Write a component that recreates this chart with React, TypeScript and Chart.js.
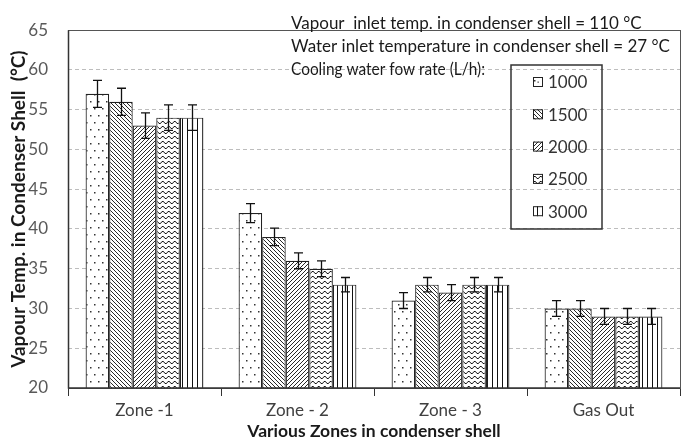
import React, { useEffect, useRef } from 'react';
import { Chart, registerables } from 'chart.js';

Chart.register(...registerables);

const categories = ['Zone -1', 'Zone - 2', 'Zone - 3', 'Gas Out'];
const flowRates = ['1000', '1500', '2000', '2500', '3000'];

const temp1000 = [57, 42, 31, 30];
const temp1500 = [56, 39, 33, 30];
const temp2000 = [53, 36, 32, 29];
const temp2500 = [54, 35, 33, 29];
const temp3000 = [54, 33, 33, 29];

const err1000 = [1.7, 1.2, 1.0, 1.0];
const err1500 = [1.7, 1.1, 0.9, 1.0];
const err2000 = [1.6, 1.0, 1.0, 1.0];
const err2500 = [1.6, 1.0, 0.9, 1.0];
const err3000 = [1.6, 0.9, 0.9, 1.0];

const yMin = 20;
const yMax = 65;
const yStep = 5;

const noteLines = [
  'Vapour  inlet temp. in condenser shell = 110 °C',
  'Water inlet temperature in condenser shell = 27 °C',
  'Cooling water fow rate (L/h):',
];
const noteMaxWidths = [358, 380, 194];
const yTitle = 'Vapour Temp. in Condenser Shell  (°C)';
const xTitle = 'Various Zones in condenser shell';

const FONT = 'Lato, "Open Sans", sans-serif';

function makeTile(w: number, h: number, draw: (c: CanvasRenderingContext2D) => void) {
  const cv = document.createElement('canvas');
  cv.width = w;
  cv.height = h;
  const c = cv.getContext('2d')!;
  c.fillStyle = '#ffffff';
  c.fillRect(0, 0, w, h);
  draw(c);
  return cv;
}

function makePatterns(ctx: CanvasRenderingContext2D) {
  const dots = makeTile(8, 14, (c) => {
    c.fillStyle = '#333';
    c.fillRect(2, 3, 1.5, 1.5);
    c.fillRect(6, 10, 1.5, 1.5);
  });
  const back = makeTile(4, 4, (c) => {
    c.strokeStyle = '#111';
    c.lineWidth = 0.9;
    c.beginPath();
    c.moveTo(-1, -1); c.lineTo(5, 5);
    c.moveTo(-1, 3); c.lineTo(1, 5);
    c.moveTo(3, -1); c.lineTo(5, 1);
    c.stroke();
  });
  const fwd = makeTile(4, 4, (c) => {
    c.strokeStyle = '#111';
    c.lineWidth = 0.9;
    c.beginPath();
    c.moveTo(-1, 5); c.lineTo(5, -1);
    c.moveTo(-1, 1); c.lineTo(1, -1);
    c.moveTo(3, 5); c.lineTo(5, 3);
    c.stroke();
  });
  const wave = makeTile(6, 5, (c) => {
    c.strokeStyle = '#111';
    c.lineWidth = 1;
    c.beginPath();
    c.moveTo(0, 1.5); c.lineTo(1.5, 1.5); c.lineTo(3, 3.5); c.lineTo(4.5, 3.5); c.lineTo(6, 1.5);
    c.stroke();
  });
  const vert = makeTile(5, 2, (c) => {
    c.fillStyle = '#111';
    c.fillRect(2, 0, 1, 2);
  });
  return [dots, back, fwd, wave, vert].map((t) => ctx.createPattern(t, 'repeat')!);
}

export default function App() {
  const ref = useRef<HTMLCanvasElement | null>(null);

  useEffect(() => {
    document.body.style.margin = '0';
    const canvas = ref.current!;
    const ctx = canvas.getContext('2d')!;
    const patterns = makePatterns(ctx);
    const series = [temp1000, temp1500, temp2000, temp2500, temp3000];
    const errors = [err1000, err1500, err2000, err2500, err3000];

    const overlay = {
      id: 'overlay',
      afterDatasetsDraw(chart: any) {
        const c = chart.ctx as CanvasRenderingContext2D;
        const ys = chart.scales.y;
        const area = chart.chartArea;
        c.save();
        // error bars
        c.strokeStyle = '#111';
        c.lineWidth = 1.3;
        series.forEach((vals, i) => {
          const meta = chart.getDatasetMeta(i);
          meta.data.forEach((el: any, j: number) => {
            const x = Math.round(el.x) + 0.5;
            const top = ys.getPixelForValue(vals[j] + errors[i][j]);
            const bot = ys.getPixelForValue(vals[j] - errors[i][j]);
            c.beginPath();
            c.moveTo(x, top); c.lineTo(x, bot);
            c.moveTo(x - 4.5, top); c.lineTo(x + 4.5, top);
            c.moveTo(x - 4.5, bot); c.lineTo(x + 4.5, bot);
            c.stroke();
          });
        });
        // frame
        c.strokeStyle = '#555';
        c.lineWidth = 1;
        c.strokeRect(Math.round(area.left) + 0.5, Math.round(area.top) + 0.5,
          Math.round(area.right - area.left), Math.round(area.bottom - area.top));
        c.strokeStyle = '#333';
        c.lineWidth = 1.5;
        c.beginPath();
        c.moveTo(area.left + 0.5, area.top);
        c.lineTo(area.left + 0.5, area.bottom);
        c.lineTo(area.right, area.bottom);
        c.stroke();
        c.restore();
      },
      afterDraw(chart: any) {
        const c = chart.ctx as CanvasRenderingContext2D;
        c.save();
        c.fillStyle = '#1a1a1a';
        c.font = `17px ${FONT}`;
        c.textBaseline = 'middle';
        c.textAlign = 'left';
        noteLines.forEach((t, i) => c.fillText(t, 291, 24 + i * 23, noteMaxWidths[i]));
        // legend box
        c.strokeStyle = '#333';
        c.lineWidth = 1.5;
        c.strokeRect(511, 65, 91, 164);
        flowRates.forEach((lab, i) => {
          const cy = 82 + i * 32.3;
          c.fillStyle = patterns[i];
          c.fillRect(533, cy - 5, 10, 10);
          if (i === 0) {
            c.fillStyle = '#444';
            c.fillRect(537.5, cy - 0.5, 1.3, 1.3);
          }
          c.strokeStyle = '#222';
          c.lineWidth = 1;
          c.strokeRect(533.5, cy - 4.5, 9, 9);
          c.fillStyle = '#333';
          c.font = `17px ${FONT}`;
          c.fillText(lab, 548, cy + 1);
        });
        c.restore();
      },
    };

    const chart = new Chart(canvas, {
      type: 'bar',
      data: {
        labels: categories,
        datasets: series.map((vals, i) => ({
          label: flowRates[i],
          data: vals,
          backgroundColor: patterns[i] as any,
          borderColor: '#222',
          borderWidth: 1.2,
          borderSkipped: false,
          categoryPercentage: 0.77,
          barPercentage: 1,
        })),
      },
      options: {
        responsive: false,
        animation: false,
        layout: { padding: { top: 10, right: 5, left: 0, bottom: 0 } },
        plugins: { legend: { display: false }, tooltip: { enabled: false } },
        scales: {
          x: {
            afterFit: (s: any) => { s.height = 56; },
            grid: { offset: true, drawOnChartArea: false, drawTicks: true, tickLength: 8, color: '#333' },
            border: { display: true, color: '#333' },
            ticks: { font: { family: FONT, size: 17 }, color: '#404040', padding: 4 },
            title: {
              display: true,
              text: xTitle,
              font: { family: FONT, size: 17.5, weight: 'bold' },
              color: '#1a1a1a',
              padding: { top: 0, bottom: 2 },
            },
          },
          y: {
            min: yMin,
            max: yMax,
            afterFit: (s: any) => { s.width = 68; },
            ticks: { stepSize: yStep, font: { family: FONT, size: 17 }, color: '#595959', padding: 20 },
            grid: { color: '#bdbdbd', drawTicks: false, lineWidth: 1 },
            border: { display: false, dash: [4, 3] },
            title: {
              display: true,
              text: yTitle,
              font: { family: FONT, size: 19, weight: 'bold' },
              color: '#1a1a1a',
              padding: { top: 7, bottom: 0 },
            },
          },
        },
      },
      plugins: [overlay],
    });
    return () => chart.destroy();
  }, []);

  return (
    <div style={{ position: 'absolute', left: 0, top: 0, width: 685, height: 444 }}>
      <canvas ref={ref} width={685} height={444} />
    </div>
  );
}
